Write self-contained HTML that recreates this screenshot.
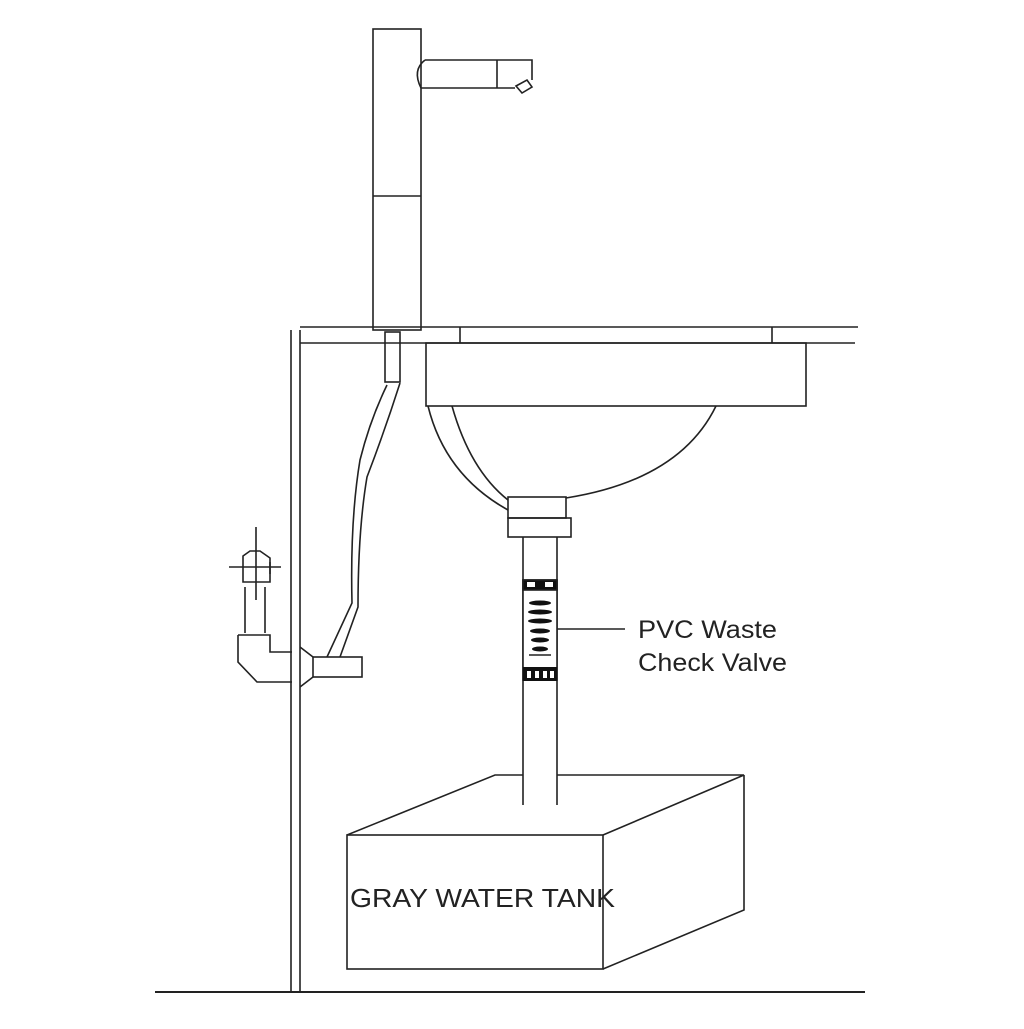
<!DOCTYPE html>
<html><head><style>html,body{margin:0;padding:0;background:#fff}</style></head>
<body>
<svg width="1024" height="1024" viewBox="0 0 1024 1024" xmlns="http://www.w3.org/2000/svg" fill="none" stroke="#222" stroke-width="1.6">
<rect width="1024" height="1024" fill="#fff" stroke="none"/>
<rect x="373" y="29" width="48" height="301"/>
<line x1="373" y1="196" x2="421" y2="196"/>
<path d="M425 60 L532 60 L532 80 M421 88 L515 88"/>
<path d="M425 60 Q412 70 421 88"/>
<line x1="497" y1="60" x2="497" y2="88"/>
<path d="M516 86 L527 80 L532 87 L522 93 Z"/>
<line x1="300" y1="327" x2="858" y2="327"/>
<line x1="300" y1="343" x2="855" y2="343"/>
<line x1="460" y1="327" x2="460" y2="343"/>
<line x1="772" y1="327" x2="772" y2="343"/>
<line x1="291" y1="330" x2="291" y2="992"/>
<line x1="300" y1="330" x2="300" y2="992"/>
<line x1="155" y1="992" x2="865" y2="992" stroke-width="2"/>
<rect x="426" y="343" width="380" height="63"/>
<path d="M428 406 Q445 475 508 510"/>
<path d="M452 406 Q470 470 508 500"/>
<path d="M566 498 Q680 480 716 406"/>
<rect x="508" y="497" width="58" height="21"/>
<rect x="508" y="518" width="63" height="19"/>
<line x1="523" y1="537" x2="523" y2="805"/>
<line x1="557" y1="537" x2="557" y2="805"/>
<rect x="523" y="580" width="34" height="100" fill="#fff"/>
<rect x="523" y="580" width="34" height="10" fill="#111"/>
<rect x="527" y="582" width="8" height="5" fill="#fff" stroke="none"/>
<rect x="545" y="582" width="8" height="5" fill="#fff" stroke="none"/>
<g fill="#111" stroke="none">
<ellipse cx="540" cy="603" rx="11" ry="2.5"/>
<ellipse cx="540" cy="612" rx="12" ry="2.5"/>
<ellipse cx="540" cy="621" rx="12" ry="2.5"/>
<ellipse cx="540" cy="631" rx="10" ry="2.5"/>
<ellipse cx="540" cy="640" rx="9" ry="2.5"/>
<ellipse cx="540" cy="649" rx="8" ry="2.5"/>
<rect x="523" y="667" width="34" height="14"/>
</g>
<g fill="#fff" stroke="none">
<rect x="527" y="671" width="4" height="7"/><rect x="535" y="671" width="4" height="7"/><rect x="543" y="671" width="4" height="7"/><rect x="550" y="671" width="4" height="7"/>
</g>
<line x1="529" y1="655" x2="551" y2="655"/>
<line x1="557" y1="629" x2="625" y2="629"/>
<text x="638" y="638" font-family="Liberation Sans, sans-serif" font-size="25" fill="#222" stroke="none" textLength="139" lengthAdjust="spacingAndGlyphs">PVC Waste</text>
<text x="638" y="671" font-family="Liberation Sans, sans-serif" font-size="25" fill="#222" stroke="none" textLength="149" lengthAdjust="spacingAndGlyphs">Check Valve</text>
<rect x="385" y="332" width="15" height="50"/>
<path d="M387 385 Q370 420 360 460 Q350 520 352 603 L327 657"/>
<path d="M400 383 Q385 430 367 477 Q358 530 358 607 L340 657"/>
<rect x="313" y="657" width="49" height="20"/>
<path d="M300 647 L313 657 M313 677 L300 687"/>
<line x1="245" y1="587" x2="245" y2="633"/>
<line x1="265" y1="587" x2="265" y2="633"/>
<path d="M238 635 L270 635 L270 652 L292 652 M238 635 L238 662 L257 682 L292 682"/>
<line x1="256" y1="527" x2="256" y2="600"/>
<line x1="229" y1="567" x2="281" y2="567"/>
<path d="M243 556 L250 551 L260 551 L270 558 L270 582 L243 582 Z"/>
<line x1="270" y1="562" x2="270" y2="574"/>
<rect x="347" y="835" width="256" height="134"/>
<path d="M347 835 L495 775 L523 775 M557 775 L744 775 L603 835 M744 775 L744 910 L603 969"/>
<text x="350" y="907" font-family="Liberation Sans, sans-serif" font-size="26" fill="#222" stroke="none" textLength="265" lengthAdjust="spacingAndGlyphs">GRAY WATER TANK</text>
</svg>
</body></html>
